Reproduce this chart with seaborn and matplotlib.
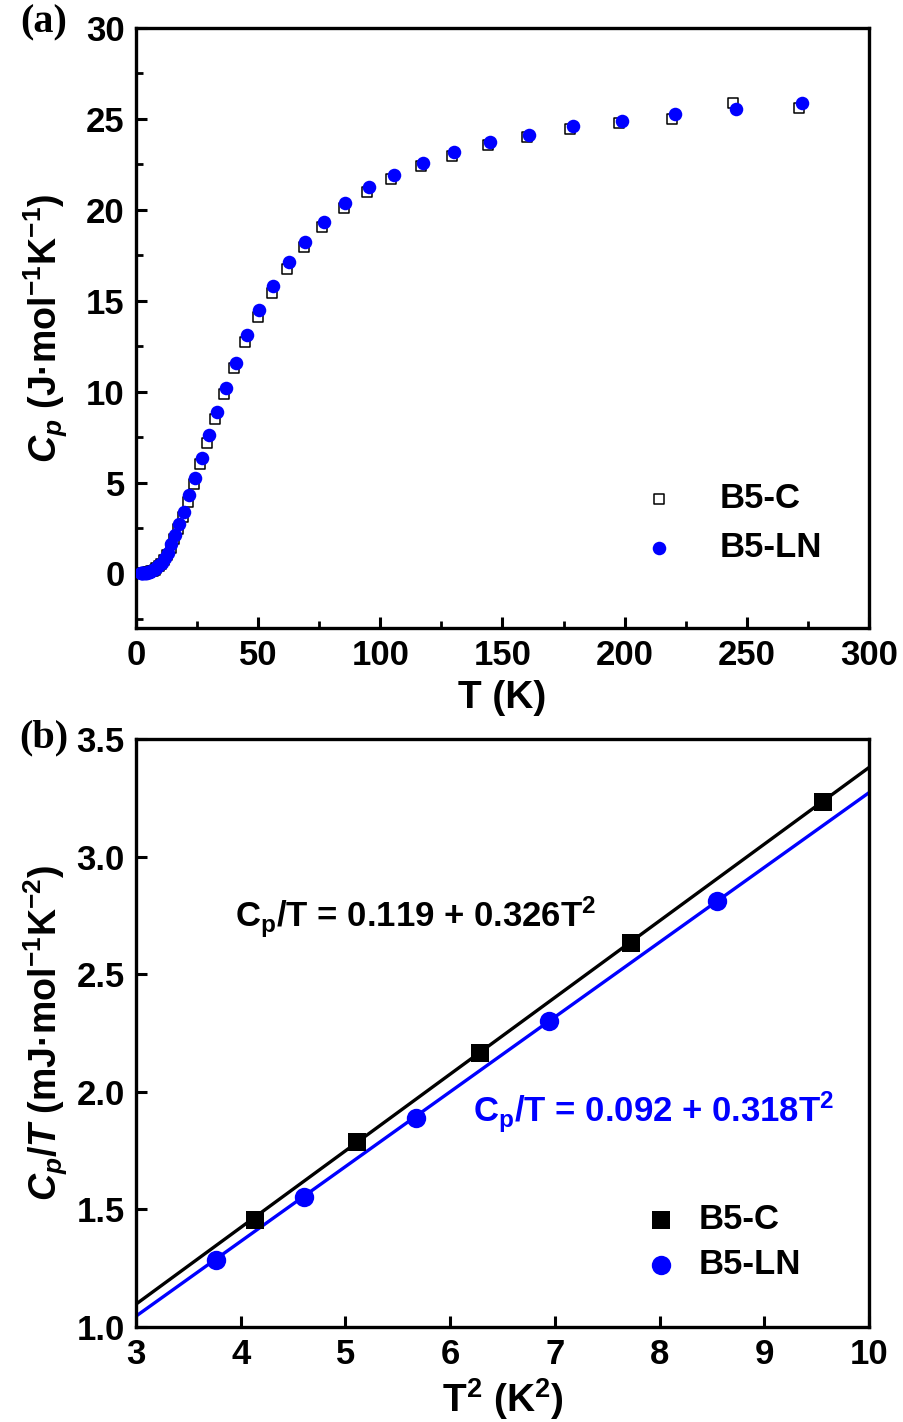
import matplotlib
matplotlib.use("Agg")
import matplotlib.pyplot as plt
import seaborn as sns
from matplotlib.ticker import MultipleLocator

# (a) heat capacity vs temperature
t_c = [271.5, 244.5, 219.5, 197.5, 177.5, 160.0, 144.0, 129.5, 116.5, 104.5,
       94.5, 85.0, 76.3, 68.6, 61.8, 55.5, 49.8, 44.6, 40.1, 36.0,
       32.5, 29.2, 26.3, 23.7, 21.4, 19.3, 17.4, 15.7, 14.2, 12.8,
       11.5, 10.4, 9.4, 8.4, 7.6, 6.8, 6.1, 5.5, 4.95, 4.45,
       4.0, 3.6, 3.25, 3.09, 2.78, 2.51, 2.26, 2.03]
cp_c = [25.62, 25.86, 24.97, 24.79, 24.42, 24.02, 23.54, 22.98, 22.39, 21.7,
        21.0, 20.1, 19.07, 17.97, 16.77, 15.45, 14.1, 12.72, 11.3, 9.87,
        8.49, 7.2, 6.04, 4.93, 3.95, 3.1, 2.45, 1.9, 1.42, 1.03,
        0.75, 0.53, 0.39, 0.29, 0.21, 0.15, 0.11, 0.08, 0.055, 0.04,
        0.03, 0.022, 0.016, 0.012, 0.009, 0.007, 0.005, 0.004]
t_ln = [272.6, 245.4, 220.8, 198.8, 178.7, 160.9, 144.8, 130.2, 117.4, 105.4,
        95.2, 85.7, 77.0, 69.3, 62.5, 56.1, 50.5, 45.5, 41.0, 37.0,
        33.3, 30.0, 27.0, 24.3, 21.9, 19.7, 17.7, 16.0, 14.4, 13.0,
        11.7, 10.5, 9.5, 8.5, 7.7, 6.9, 6.2, 5.6, 5.0, 4.5,
        4.1, 3.7, 3.3, 2.92, 2.63, 2.38, 2.14, 1.94]
cp_ln = [25.9, 25.56, 25.29, 24.88, 24.59, 24.14, 23.72, 23.19, 22.6, 21.9,
         21.23, 20.37, 19.35, 18.25, 17.13, 15.82, 14.48, 13.1, 11.6, 10.2,
         8.9, 7.6, 6.35, 5.25, 4.3, 3.4, 2.7, 2.1, 1.6, 1.15,
         0.85, 0.6, 0.45, 0.33, 0.24, 0.17, 0.12, 0.09, 0.06, 0.045,
         0.033, 0.025, 0.018, 0.013, 0.01, 0.007, 0.005, 0.004]

# (b) Cp/T vs T^2 at low temperature
t2_c = [4.14, 5.11, 6.29, 7.73, 9.56]
cpt_c = [1.455, 1.787, 2.165, 2.633, 3.232]
t2_ln = [3.76, 4.60, 5.67, 6.94, 8.55]
cpt_ln = [1.285, 1.553, 1.889, 2.301, 2.811]
fit_c = (0.119, 0.326)    # intercept, slope
fit_ln = (0.092, 0.318)

labels = ["B5-C", "B5-LN"]

sns.set_style("ticks")
plt.rcParams.update({
    "font.family": ["Liberation Sans", "DejaVu Sans"],
    "font.weight": "bold",
    "axes.labelweight": "bold",
    "mathtext.fontset": "custom",
    "mathtext.rm": "Liberation Sans:bold",
    "mathtext.bf": "Liberation Sans:bold",
    "mathtext.it": "Liberation Sans:italic:bold",
    "axes.linewidth": 2.4,
    "axes.edgecolor": "black",
    "text.color": "black",
    "axes.labelcolor": "black",
    "xtick.color": "black",
    "ytick.color": "black",
})

fig = plt.figure(figsize=(9.04, 14.22), dpi=100)
ax1 = fig.add_axes([0.1504, 0.5584, 0.8109, 0.4219])
ax2 = fig.add_axes([0.1504, 0.0668, 0.8109, 0.4135])

# panel (a)
sns.scatterplot(x=t_c, y=cp_c, marker="s", s=55, facecolor="white",
                edgecolor="black", linewidth=1.1, ax=ax1, label=labels[0], zorder=3)
sns.scatterplot(x=t_ln, y=cp_ln, marker="o", s=95, color="blue",
                edgecolor="blue", linewidth=0, ax=ax1, label=labels[1], zorder=4)
ax1.set_xlim(0, 300)
ax1.set_ylim(-3, 30)
ax1.xaxis.set_major_locator(MultipleLocator(50))
ax1.xaxis.set_minor_locator(MultipleLocator(25))
ax1.yaxis.set_major_locator(MultipleLocator(5))
ax1.yaxis.set_minor_locator(MultipleLocator(2.5))
ax1.set_xlabel("T (K)", fontsize=28)
ax1.set_ylabel("$C_p$ (J·mol$^{-1}$K$^{-1}$)", fontsize=27)
ax1.legend(loc="center left", bbox_to_anchor=(0.678, 0.175), frameon=False,
           fontsize=25, handlelength=1.5, handletextpad=1.0, borderpad=0,
           borderaxespad=0, labelspacing=0.45)

# panel (b)
sns.scatterplot(x=t2_c, y=cpt_c, marker="s", s=170, color="black",
                edgecolor="black", linewidth=0, ax=ax2, label=labels[0], zorder=4)
sns.scatterplot(x=t2_ln, y=cpt_ln, marker="o", s=195, color="blue",
                edgecolor="blue", linewidth=0, ax=ax2, label=labels[1], zorder=4)
ax2.axline((0, fit_c[0]), slope=fit_c[1], color="black", lw=2.4, zorder=2)
ax2.axline((0, fit_ln[0]), slope=fit_ln[1], color="blue", lw=2.4, zorder=2)
ax2.set_xlim(3, 10)
ax2.set_ylim(1.0, 3.5)
ax2.xaxis.set_major_locator(MultipleLocator(1))
ax2.yaxis.set_major_locator(MultipleLocator(0.5))
ax2.yaxis.set_major_formatter(lambda v, p: f"{v:.1f}")
ax2.set_xlabel("T$^2$ (K$^2$)", fontsize=28)
ax2.set_ylabel("$C_p/T$ (mJ·mol$^{-1}$K$^{-2}$)", fontsize=27)
ax2.text(3.95, 2.74, "C$_\\mathrm{p}$/T = %.3f + %.3fT$^2$" % fit_c,
         fontsize=25, color="black", va="center", ha="left")
ax2.text(6.22, 1.914, "C$_\\mathrm{p}$/T = %.3f + %.3fT$^2$" % fit_ln,
         fontsize=25, color="blue", va="center", ha="left")
ax2.legend(loc="center left", bbox_to_anchor=(0.692, 0.144), frameon=False,
           fontsize=25, handlelength=1.0, handletextpad=0.6, borderpad=0,
           borderaxespad=0, labelspacing=0.35)

for ax in (ax1, ax2):
    ax.tick_params(which="major", direction="in", length=8, width=2.2,
                   labelsize=25, top=False, right=False, pad=8)
    ax.tick_params(which="minor", direction="in", length=5, width=2.0,
                   top=False, right=False)
    for sp in ax.spines.values():
        sp.set_visible(True)
        sp.set_linewidth(2.4)
    ax.yaxis.set_label_coords(-0.09, 0.5)

ax1.xaxis.labelpad = 6
ax2.xaxis.labelpad = 4

fig.text(0.048, 0.984, "(a)", fontsize=29, fontweight="bold",
         family="Liberation Serif", ha="center", va="center")
fig.text(0.048, 0.481, "(b)", fontsize=29, fontweight="bold",
         family="Liberation Serif", ha="center", va="center")

fig.savefig("out.png", dpi=100)
